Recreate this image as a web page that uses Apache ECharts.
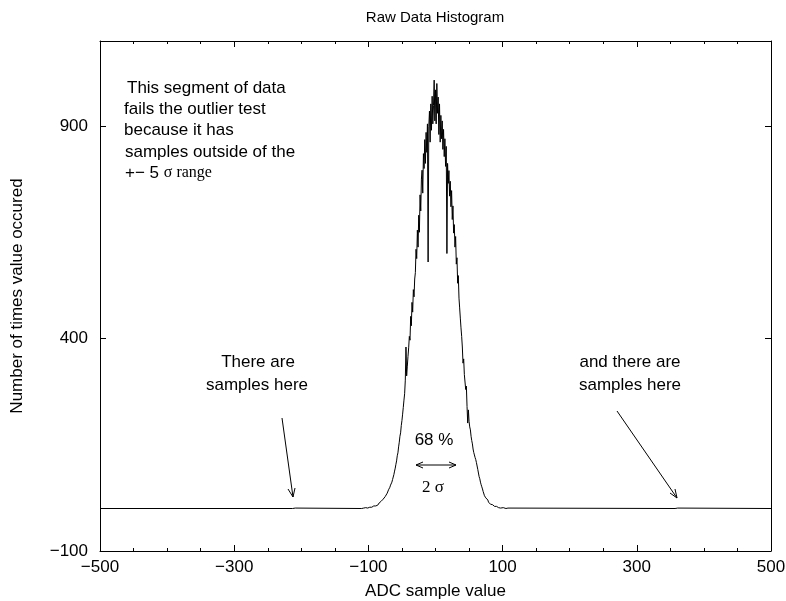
<!DOCTYPE html>
<html>
<head>
<meta charset="utf-8">
<script src="https://cdn.jsdelivr.net/npm/echarts@6/dist/echarts.min.js"></script>
<style>
  html, body { margin: 0; padding: 0; background: #fff; }
  #chart { width: 786px; height: 601px; }
</style>
</head>
<body>
<div id="chart"></div>
<script>
// histogram counts for ADC values -110 .. 110 (one bin per value)
const adcStart = -110;
const counts = [
  0, 1, 0, 1, 0, 1, 2, 1, 2, 1,
  3, 2, 3, 2, 4, 3, 5, 4, 6, 5,
  7, 6, 8, 10, 8, 11, 13, 12, 15, 17,
  16, 20, 22, 25, 23, 28, 32, 30, 36, 40,
  44, 42, 50, 55, 53, 62, 68, 74, 80, 88,
  95, 104, 112, 124, 131, 145, 156, 170, 178, 195,
  207, 222, 238, 255, 270, 302, 380, 312, 335, 358,
  378, 405, 396, 452, 430, 485, 462, 515, 498, 540,
  555, 610, 588, 655, 615, 690, 650, 738, 700, 775,
  796, 742, 835, 800, 868, 812, 885, 838, 905, 580,
  898, 935, 862, 952, 890, 970, 905, 948, 1008, 912,
  985, 905, 1000, 930, 968, 880, 952, 862, 925, 870,
  912, 845, 892, 828, 870, 805, 852, 600, 812, 765,
  795, 735, 770, 710, 748, 680, 712, 648, 668, 615,
  640, 575, 590, 530, 548, 495, 472, 448, 425, 405,
  380, 342, 352, 315, 318, 280, 288, 240, 201, 232,
  205, 192, 185, 170, 160, 152, 140, 132, 126, 120,
  115, 108, 107, 92, 88, 75, 70, 62, 56, 51,
  46, 40, 36, 30, 27, 25, 22, 21, 20, 15,
  13, 14, 10, 11, 8, 9, 6, 7, 5, 6,
  4, 5, 3, 4, 2, 3, 2, 1, 2, 1,
  1, 2, 0, 1, 1, 0, 1, 0, 1, 0, 0
];
// the rest of the range: nearly empty, a few outlier samples
const farAdc = [-500, -213, -212, -211, -209, -208, 357, 358, 359, 361, 362, 500];
const farCounts = [0, 0, 1, 0, 1, 0, 0, 1, 0, 1, 0, 0];

const xTicks = { min: -500, max: 500, interval: 200 };
const yTicks = { min: -100, max: 1100, interval: 500 };

const points = [];
farAdc.forEach((x, i) => { if (x < adcStart) points.push([x, farCounts[i]]); });
counts.forEach((c, i) => points.push([adcStart + i, c]));
farAdc.forEach((x, i) => { if (x > adcStart + counts.length - 1) points.push([x, farCounts[i]]); });

const font = 'Liberation Sans, Arial, Helvetica, sans-serif';
const serif = 'Liberation Serif, Times New Roman, serif';
const fs = 17;
const minus = v => String(v).replace('-', '\u2212');

const tickStyle = { inside: true, length: 6, lineStyle: { color: '#000', width: 1 } };
const minorStyle = { show: true, splitNumber: 4, length: 3, lineStyle: { color: '#000', width: 1 } };

function xAxisCfg(pos, labels) {
  return {
    type: 'value', position: pos, ...xTicks,
    axisLine: { show: true, onZero: false, lineStyle: { color: '#000', width: 1 } },
    axisTick: tickStyle,
    minorTick: minorStyle,
    splitLine: { show: false },
    axisLabel: { show: labels, color: '#000', fontSize: fs, fontFamily: font, margin: 8, formatter: minus },
    name: labels ? 'ADC sample value' : '',
    nameLocation: 'middle', nameGap: 32,
    nameTextStyle: { color: '#000', fontSize: fs, fontFamily: font }
  };
}
function yAxisCfg(pos, labels) {
  return {
    type: 'value', position: pos, ...yTicks,
    axisLine: { show: true, onZero: false, lineStyle: { color: '#000', width: 1 } },
    axisTick: tickStyle,
    splitLine: { show: false },
    axisLabel: { show: labels, color: '#000', fontSize: fs, fontFamily: font, margin: 12,
      showMaxLabel: false, formatter: minus },
    name: labels ? 'Number of times value occured' : '',
    nameLocation: 'middle', nameGap: 74,
    nameTextStyle: { color: '#000', fontSize: fs, fontFamily: font }
  };
}

const txt = (x, y, text, extra) => ({
  type: 'text', x: x, y: y,
  style: Object.assign({ text: text, fill: '#000', font: fs + 'px ' + font, textAlign: 'left', textVerticalAlign: 'middle' }, extra || {})
});
const line = (pts) => ({ type: 'polyline', shape: { points: pts }, style: { stroke: '#000', lineWidth: 1, fill: null } });

const chart = echarts.init(document.getElementById('chart'), null, { renderer: 'canvas' });
chart.setOption({
  animation: false,
  backgroundColor: '#fff',
  grid: { left: 100, right: 15, top: 41, bottom: 50, outerBoundsMode: 'none', containLabel: false },
  xAxis: [xAxisCfg('bottom', true), xAxisCfg('top', false)],
  yAxis: [yAxisCfg('left', true), yAxisCfg('right', false)],
  series: [{
    type: 'line',
    data: points,
    showSymbol: false,
    lineStyle: { color: '#000', width: 1 },
    silent: true
  }],
  graphic: [
    txt(435, 18, 'Raw Data Histogram', { textAlign: 'center', font: '15px ' + font }),
    txt(127, 88, 'This segment of data'),
    txt(124, 109, 'fails the outlier test'),
    txt(124, 130, 'because it has'),
    txt(125, 152, 'samples outside of the'),
    {
      type: 'text', x: 125, y: 173,
      style: {
        text: '{a|+\u2212 5 }{b|\u03c3 range}', textVerticalAlign: 'middle',
        rich: {
          a: { fontFamily: font, fontSize: fs, fill: '#000' },
          b: { fontFamily: serif, fontSize: 16, fill: '#000' }
        }
      }
    },
    txt(258, 362, 'There are', { textAlign: 'center' }),
    txt(257, 385, 'samples here', { textAlign: 'center' }),
    txt(630, 362, 'and there are', { textAlign: 'center' }),
    txt(630, 385, 'samples here', { textAlign: 'center' }),
    txt(434, 440, '68 %', { textAlign: 'center' }),
    txt(433, 488, '2 \u03c3', { textAlign: 'center', font: '17px ' + serif }),
    // left arrow
    line([[282, 418], [293, 497]]),
    line([[288, 489], [293, 497], [295, 488]]),
    // right arrow
    line([[617, 411], [677, 498]]),
    line([[670, 493], [677, 498], [675, 489]]),
    // 2 sigma double arrow
    line([[416, 465], [456, 465]]),
    line([[423, 462], [416, 465], [423, 468]]),
    line([[449, 462], [456, 465], [449, 468]])
  ]
});
</script>
</body>
</html>
